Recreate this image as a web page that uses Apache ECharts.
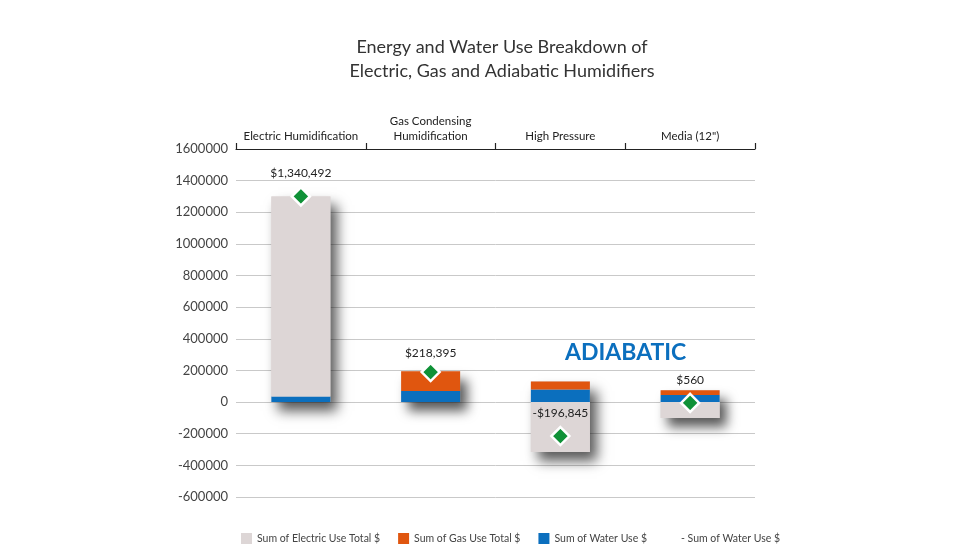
<!DOCTYPE html>
<html>
<head>
<meta charset="utf-8">
<script src="https://cdn.jsdelivr.net/npm/echarts@6/dist/echarts.min.js"></script>
<style>html,body{margin:0;padding:0;background:#fff}#c{width:980px;height:560px}</style>
</head>
<body>
<div id="c"></div>
<script>
// ---- data ----
var categories = ['Electric Humidification', 'Gas Condensing\nHumidification', 'High Pressure', 'Media (12")'];
var waterUse = [35000, 70000, 80000, 45000];
var gasUse = [0, 125000, 50000, 30000];
var electricUse = [1265000, 0, -315000, -100000];
var totalMarker = [1300000, 190000, -215000, -5000];
var totalLabels = ['$1,340,492', '$218,395', '-$196,845', '$560'];
var yTicks = { min: -600000, max: 1600000, interval: 200000 };

var C_GRAY = '#ddd6d6', C_ORANGE = '#e0560f', C_BLUE = '#0b6fbe', C_GREEN = '#0f9137';
var FONT = 'Lato';
var labelDistance = [7, 3, 7, 7];

// shadow extents built from the stacked values
var shadowData = categories.map(function (c, i) {
  var vals = [waterUse[i], gasUse[i], electricUse[i]];
  var pos = 0, neg = 0;
  vals.forEach(function (v) { if (v >= 0) pos += v; else neg += v; });
  return [i, neg, pos];
});

var chart = echarts.init(document.getElementById('c'), null, { renderer: 'canvas' });
chart.setOption({
  backgroundColor: '#fff',
  animation: false,
  title: {
    text: 'Energy and Water Use Breakdown of\nElectric, Gas and Adiabatic Humidifiers',
    left: 497, top: 30, textAlign: 'center',
    textStyle: { fontFamily: FONT, fontSize: 18, fontWeight: 'normal', color: '#333', lineHeight: 24 }
  },
  grid: { left: 236, right: 225, top: 149, bottom: 63, containLabel: false },
  legend: {
    bottom: 11, left: 236,
    itemWidth: 11, itemHeight: 11, itemGap: 18,
    textStyle: { fontFamily: FONT, fontSize: 10.5, color: '#444' },
    data: [
      { name: 'Sum of Electric Use Total $', icon: 'rect' },
      { name: 'Sum of Gas Use Total $', icon: 'rect' },
      { name: 'Sum of Water Use $', icon: 'rect' },
      { name: '- Sum of Water Use $', icon: 'none' }
    ]
  },
  xAxis: {
    type: 'category', position: 'top', data: categories,
    axisLine: { show: true, onZero: false, lineStyle: { color: '#222', width: 1.2 } },
    axisTick: { show: true, length: 6, lineStyle: { color: '#222', width: 1.2 } },
    axisLabel: { interval: 0, fontFamily: FONT, fontSize: 11.5, color: '#222', margin: 5, lineHeight: 15 },
    splitLine: { show: false }
  },
  yAxis: {
    type: 'value', min: yTicks.min, max: yTicks.max, interval: yTicks.interval,
    axisLine: { show: false }, axisTick: { show: false },
    axisLabel: { fontFamily: FONT, fontSize: 13, color: '#444', margin: 8,
      formatter: function (v) { return String(v); } },
    splitLine: { lineStyle: { color: '#c9c9c9', width: 1 } }
  },
  graphic: [{
    type: 'text', left: 565, top: 341, z: 100,
    style: { text: 'ADIABATIC', fill: C_BLUE, font: 'bold 23px ' + FONT }
  }],
  series: [
    {
      type: 'custom', name: 'shadow', z: 1, silent: true,
      data: shadowData,
      encode: { x: 0, y: [1, 2] },
      renderItem: function (params, api) {
        var top = api.coord([api.value(0), api.value(2)]);
        var bot = api.coord([api.value(0), api.value(1)]);
        var w = 59;
        return {
          type: 'rect',
          shape: { x: top[0] - w / 2, y: top[1], width: w, height: bot[1] - top[1] },
          style: { fill: C_GRAY, shadowBlur: 12, shadowOffsetX: 7, shadowOffsetY: 9, shadowColor: 'rgba(0,0,0,0.65)' }
        };
      }
    },
    { type: 'bar', name: 'Sum of Water Use $', stack: 's', data: waterUse, barWidth: 59, z: 3,
      itemStyle: { color: C_BLUE } },
    { type: 'bar', name: 'Sum of Gas Use Total $', stack: 's', data: gasUse, barWidth: 59, z: 3,
      itemStyle: { color: C_ORANGE } },
    { type: 'bar', name: 'Sum of Electric Use Total $', stack: 's', data: electricUse, barWidth: 59, z: 3,
      itemStyle: { color: C_GRAY } },
    {
      type: 'scatter', name: '- Sum of Water Use $', z: 5,
      data: totalMarker.map(function (v, i) {
        return { value: v, label: { distance: labelDistance[i] } };
      }),
      symbol: 'diamond', symbolSize: 18,
      itemStyle: { color: C_GREEN, borderColor: '#fff', borderWidth: 2.5, opacity: 1 },
      label: {
        show: true, position: 'top', distance: 7,
        fontFamily: FONT, fontSize: 12, color: '#222',
        formatter: function (p) { return totalLabels[p.dataIndex]; }
      }
    }
  ]
});
</script>
</body>
</html>
